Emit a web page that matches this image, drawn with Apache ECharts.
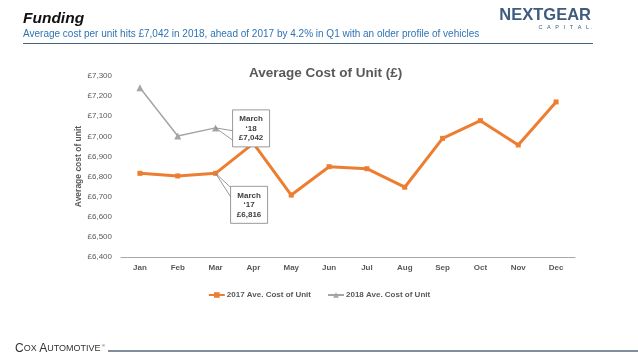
<!DOCTYPE html>
<html><head><meta charset="utf-8">
<script src="https://cdn.jsdelivr.net/npm/echarts@6/dist/echarts.min.js"></script>
<style>html,body{margin:0;padding:0;background:#fff}#c{width:638px;height:359px}</style>
</head><body><div id="c"></div>
<script>
const months = ['Jan','Feb','Mar','Apr','May','Jun','Jul','Aug','Sep','Oct','Nov','Dec'];
const cost2017 = [6816, 6803, 6816, 6965, 6708, 6849, 6839, 6747, 6990, 7078, 6957, 7171];
const cost2018 = [7242, 7002, 7042, null, null, null, null, null, null, null, null, null];
const yTicks = {min: 6400, max: 7300, interval: 100};
const callouts = [
  {series: 1, index: 2, text: 'March\n‘18\n£7,042', dx: 17, dy: -18, w1: 3, w2: 13},
  {series: 0, index: 2, text: 'March\n‘17\n£6,816', dx: 15, dy: 13, w1: 2, w2: 12}
];
const FONT = '"Liberation Sans", Arial, sans-serif';
const chart = echarts.init(document.getElementById('c'));
chart.setOption({
  animation: false,
  textStyle: {fontFamily: FONT},
  title: [
    {text: 'Funding', left: 18, top: 6, textStyle: {fontSize: 15.5, fontWeight: 'bold', fontStyle: 'italic', color: '#111', fontFamily: FONT}},
    {text: 'Average cost per unit hits £7,042 in 2018, ahead of 2017 by 4.2% in Q1 with an older profile of vehicles', left: 18, top: 24, textStyle: {fontSize: 10, fontWeight: 'normal', color: '#2e74b5', fontFamily: FONT}},
    {text: 'Average Cost of Unit (£)', left: 244, top: 61, textStyle: {fontSize: 13.5, fontWeight: 'bold', color: '#595959', fontFamily: FONT}}
  ],
  legend: {
    bottom: 55, left: 'center', itemGap: 16, itemWidth: 16, itemHeight: 7,
    textStyle: {fontSize: 8, color: '#595959', fontWeight: 'bold', padding: [0, 0, 0, -3]},
    data: ['2017 Ave. Cost of Unit', '2018 Ave. Cost of Unit']
  },
  grid: {left: 121, right: 63, top: 76, bottom: 102, containLabel: false},
  xAxis: {
    type: 'category', data: months, boundaryGap: true,
    axisLine: {lineStyle: {color: '#a6a6a6', width: 1}},
    axisTick: {show: false},
    axisLabel: {fontSize: 8, color: '#595959', fontWeight: 'bold', margin: 7}
  },
  yAxis: {
    type: 'value', min: yTicks.min, max: yTicks.max, interval: yTicks.interval,
    name: 'Average cost of unit', nameLocation: 'middle', nameGap: 38, nameRotate: 90,
    nameMoveOverlap: false,
    nameTextStyle: {fontSize: 8.5, color: '#595959', fontWeight: 'bold'},
    axisLine: {show: false}, axisTick: {show: false}, splitLine: {show: false},
    axisLabel: {fontSize: 8, color: '#595959', margin: 9,
      formatter: v => '£' + v.toLocaleString('en-GB')}
  },
  series: [
    {name: '2017 Ave. Cost of Unit', type: 'line', data: cost2017,
     symbol: 'rect', symbolSize: 5, lineStyle: {color: '#ed7d31', width: 3},
     itemStyle: {color: '#ed7d31'}, z: 3},
    {name: '2018 Ave. Cost of Unit', type: 'line', data: cost2018,
     symbol: 'triangle', symbolSize: 7, lineStyle: {color: '#a5a5a5', width: 1.5},
     itemStyle: {color: '#a5a5a5'}, z: 2}
  ]
});
const els = [];
callouts.forEach(c => {
  const vals = c.series === 0 ? cost2017 : cost2018;
  const p = chart.convertToPixel({seriesIndex: c.series}, [c.index, vals[c.index]]);
  const bx = p[0] + c.dx, by = p[1] + c.dy, w = 37, h = 37;
  const wy = c.dy < 0 ? p[1] : by;
  els.push({type: 'polygon', shape: {points: [[p[0], p[1]], [bx + 1, wy + c.w1], [bx + 1, wy + c.w2]]},
    style: {fill: '#fff', stroke: '#7f7f7f', lineWidth: 0.8}, z: 10});
  els.push({type: 'rect', shape: {x: bx, y: by, width: w, height: h},
    style: {fill: '#fff', stroke: '#7f7f7f', lineWidth: 0.8}, z: 11});
  els.push({type: 'text', x: bx + w / 2, y: by + h / 2,
    style: {text: c.text, fill: '#404040', font: 'bold 8px ' + FONT, align: 'center', verticalAlign: 'middle', lineHeight: 9.5}, z: 12});
});
// header decorations
els.push({type: 'line', shape: {x1: 23, y1: 43.5, x2: 593, y2: 43.5}, style: {stroke: '#44607f', lineWidth: 1.2}});
els.push({type: 'text', x: 591, y: 7, style: {text: 'NEXTGEAR', fill: '#3e5c7e', font: 'bold 16.5px ' + FONT, align: 'right'}});
els.push({type: 'text', x: 592, y: 24, style: {text: 'C   A   P   I   T   A   L .', fill: '#3e5c7e', font: '5.5px ' + FONT, align: 'right'}});
els.push({type: 'text', x: 15, y: 349, style: {
  text: '{b|C}{s|OX }{b|A}{s|UTOMOTIVE}', verticalAlign: 'middle',
  rich: {b: {fontSize: 12, fontFamily: FONT, fill: '#333'}, s: {fontSize: 9, fontFamily: FONT, fill: '#333'}}}});
els.push({type: 'text', x: 102, y: 344, style: {text: '®', fill: '#333', font: '4px ' + FONT}});
els.push({type: 'line', shape: {x1: 108, y1: 351, x2: 638, y2: 351}, style: {stroke: '#56677a', lineWidth: 1.5}});
chart.setOption({graphic: els});
</script></body></html>
